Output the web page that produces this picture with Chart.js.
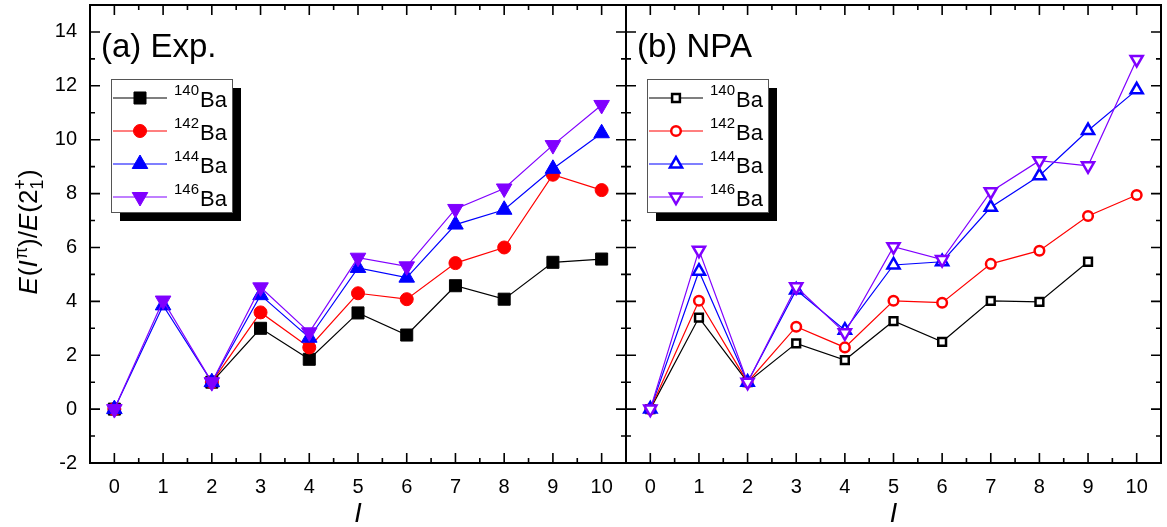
<!doctype html>
<html lang="en">
<head>
<meta charset="utf-8">
<title>E(I)/E(2+) of Ba isotopes</title>
<style>
  * { margin: 0; padding: 0; }
  body { background: #fff; }
  .frame { position: relative; width: 1167px; height: 527px; overflow: hidden; background: #fff; }
  canvas { position: absolute; top: 0; }
  #expChart { left: 0; }
  #npaChart { left: 625px; }
</style>
</head>
<body>
<div class="frame">
  <canvas id="expChart" width="627" height="527"></canvas>
  <canvas id="npaChart" width="542" height="527"></canvas>
</div>

<script src="https://cdn.jsdelivr.net/npm/chart.js@4.4.0/dist/chart.umd.min.js"></script>
<script>
// data block
const spins = [0, 1, 2, 3, 4, 5, 6, 7, 8, 9, 10];
const xTicks = [0, 1, 2, 3, 4, 5, 6, 7, 8, 9, 10];
const yTicks = [-2, 0, 2, 4, 6, 8, 10, 12, 14];
const isotopes = ['140', '142', '144', '146'];

// (a) Exp.
const exp140 = [0, null, 1, 3.0, 1.85, 3.57, 2.75, 4.58, 4.08, 5.45, 5.57];
const exp142 = [0, null, 1, 3.59, 2.29, 4.3, 4.08, 5.42, 6.0, 8.7, 8.13];
const exp144 = [0, 3.85, 1, 4.23, 2.65, 5.24, 4.88, 6.85, 7.4, 8.92, 10.24];
const exp146 = [0, 4.03, 1, 4.52, 2.85, 5.62, 5.3, 7.43, 8.19, 9.8, 11.29];

// (b) NPA
const npa140 = [0, 3.4, 1, 2.44, 1.82, 3.27, 2.5, 4.02, 3.98, 5.47, null];
const npa142 = [0, 4.02, 1, 3.06, 2.29, 4.02, 3.95, 5.39, 5.88, 7.17, 7.95];
const npa144 = [0, 5.12, 1, 4.42, 2.93, 5.35, 5.47, 7.49, 8.66, 10.34, 11.85];
const npa146 = [0, 5.9, 1, 4.54, 2.83, 6.03, 5.55, 8.07, 9.22, 9.03, 12.98];

// style block
const FONT = 'Arial, "Liberation Sans", sans-serif';
const colors = ['#000000', '#ff0000', '#0000ff', '#8000ff'];
const filledMarks = [
  { pointStyle: 'rect', radius: 8.5, rotation: 0 },
  { pointStyle: 'circle', radius: 6.5, rotation: 0 },
  { pointStyle: 'triangle', radius: 9, rotation: 0 },
  { pointStyle: 'triangle', radius: 9, rotation: 180 }
];
const openMarks = [
  { pointStyle: 'rect', radius: 5.5, rotation: 0 },
  { pointStyle: 'circle', radius: 4.8, rotation: 0 },
  { pointStyle: 'triangle', radius: 7, rotation: 0 },
  { pointStyle: 'triangle', radius: 7, rotation: 180 }
];

function makeSets(series, open) {
  const marks = open ? openMarks : filledMarks;
  return series.map((vals, i) => ({
    label: isotopes[i] + 'Ba',
    data: vals.map((v, k) => ({ x: spins[k], y: v })),
    borderColor: colors[i],
    borderWidth: 1.2,
    pointStyle: marks[i].pointStyle,
    pointRadius: marks[i].radius,
    pointRotation: marks[i].rotation,
    pointBackgroundColor: open ? '#ffffff' : colors[i],
    pointBorderColor: colors[i],
    pointBorderWidth: open ? 2.5 : 1,
    spanGaps: false,
    tension: 0,
    order: 3 - i
  }));
}

// frame + inward ticks plugin
const frameTicks = {
  id: 'frameTicks',
  afterDraw(chart) {
    const { ctx, chartArea: { left, right, top, bottom }, scales: { x, y } } = chart;
    const major = 10, minor = 5;
    ctx.save();
    ctx.strokeStyle = '#000';
    ctx.lineWidth = 1.6;
    ctx.beginPath();
    const xMinor = xTicks.slice(1).map((v, i) => (v + xTicks[i]) / 2);
    const yMinor = yTicks.slice(1).map((v, i) => (v + yTicks[i]) / 2);
    xTicks.forEach(v => {
      const px = x.getPixelForValue(v);
      ctx.moveTo(px, bottom); ctx.lineTo(px, bottom - major);
      ctx.moveTo(px, top); ctx.lineTo(px, top + major);
    });
    xMinor.forEach(v => {
      const px = x.getPixelForValue(v);
      ctx.moveTo(px, bottom); ctx.lineTo(px, bottom - minor);
      ctx.moveTo(px, top); ctx.lineTo(px, top + minor);
    });
    yTicks.forEach(v => {
      const py = y.getPixelForValue(v);
      ctx.moveTo(left, py); ctx.lineTo(left + major, py);
      ctx.moveTo(right, py); ctx.lineTo(right - major, py);
    });
    yMinor.forEach(v => {
      const py = y.getPixelForValue(v);
      ctx.moveTo(left, py); ctx.lineTo(left + minor, py);
      ctx.moveTo(right, py); ctx.lineTo(right - minor, py);
    });
    ctx.stroke();
    ctx.lineWidth = 2;
    ctx.strokeRect(left, top, right - left, bottom - top);
    ctx.restore();
  }
};

// panel label + legend box
function panelDecor(label, open) {
  return {
    id: 'panelDecor',
    afterDraw(chart) {
      const { ctx, chartArea: { left } } = chart;
      const marks = open ? openMarks : filledMarks;
      ctx.save();
      ctx.fillStyle = '#000';
      ctx.font = '33px ' + FONT;
      ctx.textBaseline = 'alphabetic';
      ctx.textAlign = 'left';
      ctx.fillText(label, left + 11, 57);

      const bx = left + 21, by = 79, bw = 121, bh = 133;
      ctx.fillStyle = '#000';
      ctx.fillRect(bx + 9, by + 9, bw, bh);
      ctx.fillStyle = '#fff';
      ctx.fillRect(bx, by, bw, bh);
      ctx.strokeStyle = '#555';
      ctx.lineWidth = 1;
      ctx.strokeRect(bx + 0.5, by + 0.5, bw, bh);

      isotopes.forEach((iso, i) => {
        const ry = 98 + i * 33;
        ctx.strokeStyle = colors[i];
        ctx.lineWidth = 1.2;
        ctx.beginPath();
        ctx.moveTo(bx + 2, ry); ctx.lineTo(bx + 56, ry);
        ctx.stroke();
        ctx.fillStyle = open ? '#fff' : colors[i];
        ctx.strokeStyle = colors[i];
        ctx.lineWidth = open ? 2.5 : 1;
        Chart.helpers.drawPoint(ctx, {
          pointStyle: marks[i].pointStyle,
          radius: marks[i].radius,
          rotation: marks[i].rotation,
          borderWidth: open ? 2.5 : 1
        }, bx + 29, ry);
        ctx.fillStyle = '#000';
        ctx.font = '15px ' + FONT;
        ctx.fillText(iso, bx + 63, ry - 3);
        const w = ctx.measureText(iso).width;
        ctx.font = '22px ' + FONT;
        ctx.fillText('Ba', bx + 63 + w + 1, ry + 9);
      });
      ctx.restore();
    }
  };
}

// rotated y title E(I^pi)/E(2_1^+)
const yTitle = {
  id: 'yTitle',
  afterDraw(chart) {
    const ctx = chart.ctx;
    const big = 26, small = 18;
    const parts = [
      { t: 'E', it: true }, { t: '(' }, { t: 'I', it: true }, { t: 'π', sup: true },
      { t: ')/' }, { t: 'E', it: true }, { t: '(2' }, { sub: '1', sup2: '+' }, { t: ')' }
    ];
    const fontFor = (p, size) => (p.it ? 'italic ' : '') + size + 'px ' + FONT;
    ctx.save();
    let total = 0;
    parts.forEach(p => {
      if (p.sub) {
        ctx.font = small + 'px ' + FONT;
        p.w = Math.max(ctx.measureText(p.sub).width, ctx.measureText(p.sup2).width) + 1;
      } else {
        ctx.font = fontFor(p, p.sup ? small : big);
        p.w = ctx.measureText(p.t).width + (p.it ? 1 : 0);
      }
      total += p.w;
    });
    ctx.translate(37, 232);
    ctx.rotate(-Math.PI / 2);
    ctx.fillStyle = '#000';
    ctx.textAlign = 'left';
    ctx.textBaseline = 'alphabetic';
    let cx = -total / 2;
    parts.forEach(p => {
      if (p.sub) {
        ctx.font = small + 'px ' + FONT;
        ctx.fillText(p.sub, cx, 6);
        ctx.fillText(p.sup2, cx, -11);
      } else if (p.sup) {
        ctx.font = fontFor(p, small);
        ctx.fillText(p.t, cx, -10);
      } else {
        ctx.font = fontFor(p, big);
        ctx.fillText(p.t, cx, 0);
      }
      cx += p.w;
    });
    ctx.restore();
  }
};

// config block
function makeConfig(series, open, label, showY, padRight) {
  const plugins = [frameTicks, panelDecor(label, open)];
  if (showY) plugins.push(yTitle);
  return {
    type: 'line',
    data: { datasets: makeSets(series, open) },
    options: {
      responsive: false,
      animation: false,
      events: [],
      layout: { autoPadding: false, padding: { left: showY ? 0 : 1, right: padRight, top: 5, bottom: 0 } },
      plugins: { legend: { display: false }, tooltip: { enabled: false } },
      scales: {
        x: {
          type: 'linear', min: -0.5, max: 10.5,
          grid: { display: false, drawTicks: false },
          border: { display: false },
          afterBuildTicks: s => { s.ticks = xTicks.map(v => ({ value: v })); },
          afterFit: s => { s.height = 64; s.paddingLeft = 0; s.paddingRight = 0; },
          ticks: { padding: 12, color: '#000', font: { family: FONT, size: 20 }, maxRotation: 0, autoSkip: false },
          title: { display: true, text: 'I', color: '#000', padding: 0,
                   font: { family: FONT, size: 27, style: 'italic', lineHeight: 0.9 } }
        },
        y: {
          type: 'linear', min: -2, max: 15, display: showY,
          grid: { display: false, drawTicks: false },
          border: { display: false },
          afterBuildTicks: s => { s.ticks = yTicks.map(v => ({ value: v })); },
          afterFit: s => { s.width = showY ? 90 : 0; s.paddingTop = 0; s.paddingBottom = 0; },
          ticks: { padding: 13, color: '#000', font: { family: FONT, size: 20 } }
        }
      }
    },
    plugins: plugins
  };
}

// init render block
const expChart = new Chart(document.getElementById('expChart'),
  makeConfig([exp140, exp142, exp144, exp146], false, '(a) Exp.', true, 1));
const npaChart = new Chart(document.getElementById('npaChart'),
  makeConfig([npa140, npa142, npa144, npa146], true, '(b) NPA', false, 6));
</script>
</body>
</html>
